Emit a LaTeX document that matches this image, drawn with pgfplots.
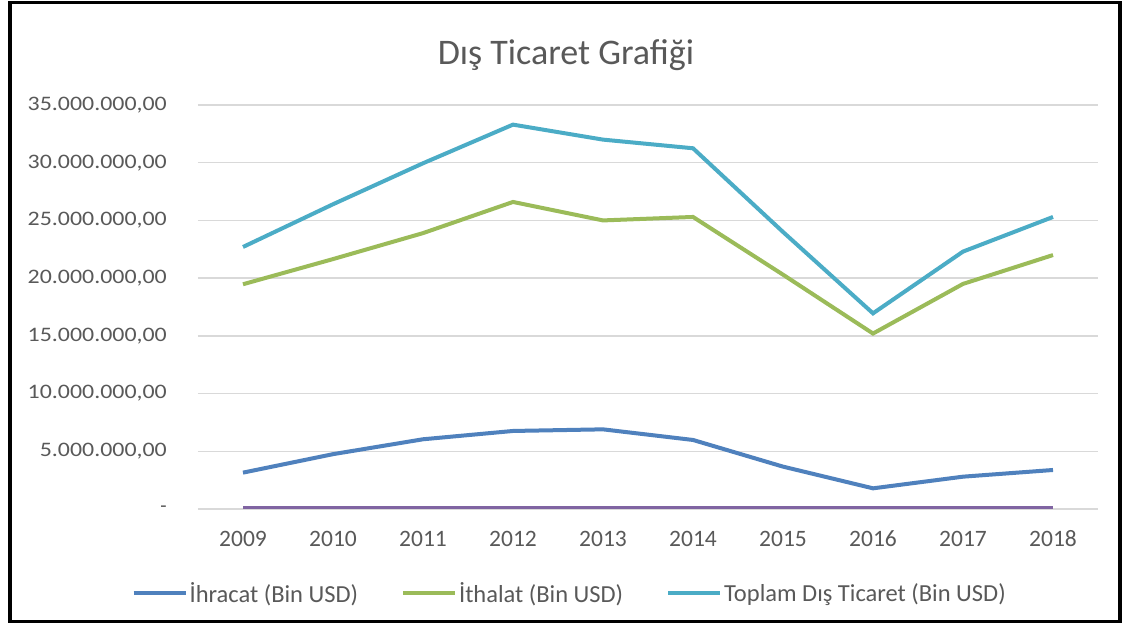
\documentclass[border=0pt]{standalone}
\usepackage{pgfplots}
\pgfplotsset{compat=1.18}
\usepackage{fontspec}
\setmainfont{Carlito}
\definecolor{cblue}{HTML}{4F81BD}
\definecolor{cgreen}{HTML}{9BBB59}
\definecolor{ccyan}{HTML}{4BACC6}
\definecolor{cpurple}{HTML}{8064A2}
\definecolor{gridgray}{HTML}{D9D9D9}
\definecolor{txtgray}{HTML}{595959}
\newcommand{\yl}[1]{\scalebox{1.16}[1]{#1}}
\begin{document}
\begin{tikzpicture}[x=1bp,y=1bp]
\begin{scope}[shift={(-198bp,-115bp)}]
\fill[white] (0,0) rectangle (1128,624);
\end{scope}
\begin{axis}[
  at={(0,0)}, anchor=south west,
  width=900bp, height=404bp, scale only axis,
  xmin=-0.5, xmax=9.5, ymin=0, ymax=35,
  axis line style={draw=none},
  major tick length=0pt,
  ymajorgrids, grid style={color=gridgray, line width=1.4bp},
  xtick={0,...,9},
  xticklabels={2009,2010,2011,2012,2013,2014,2015,2016,2017,2018},
  ytick={0,5,10,15,20,25,30,35},
  yticklabels={{-\hspace{15bp}},\yl{5.000.000,00},\yl{10.000.000,00},\yl{15.000.000,00},\yl{20.000.000,00},\yl{25.000.000,00},\yl{30.000.000,00},\yl{35.000.000,00}},
  yticklabel style={anchor=east, inner sep=0pt, xshift=-31bp, font=\fontsize{20.6bp}{24bp}\selectfont, text=txtgray},
  xticklabel style={anchor=base, inner sep=0pt, yshift=-38bp, font=\fontsize{23.5bp}{28bp}\selectfont, text=txtgray},
  legend style={at={(0.413,-0.208)}, anchor=center, draw=none, fill=none,
    legend columns=3, font=\fontsize{24.5bp}{28bp}\selectfont, text=txtgray,
    /tikz/every even column/.append style={column sep=41bp}},
  legend image code/.code={\draw[#1, line width=4bp] (0bp,0bp) -- (52bp,0bp);},
  every axis plot/.append style={line width=4bp},
]
\addplot[cpurple, line width=5bp, forget plot] coordinates {(0,0) (1,0) (2,0) (3,0) (4,0) (5,0) (6,0) (7,0) (8,0) (9,0)};
\addplot[cblue] coordinates {(0,3.15) (1,4.75) (2,6.04) (3,6.76) (4,6.9) (5,5.98) (6,3.67) (7,1.79) (8,2.8) (9,3.38)};
\addlegendentry{İhracat (Bin USD)}
\addplot[cgreen] coordinates {(0,19.47) (1,21.65) (2,23.9) (3,26.6) (4,25.0) (5,25.3) (6,20.3) (7,15.2) (8,19.5) (9,22.0)};
\addlegendentry{İthalat (Bin USD)}
\addplot[ccyan] coordinates {(0,22.7) (1,26.4) (2,29.95) (3,33.3) (4,32.0) (5,31.25) (6,24.0) (7,16.95) (8,22.3) (9,25.3)};
\addlegendentry{Toplam Dış Ticaret (Bin USD)}
\end{axis}
\begin{scope}[shift={(-198bp,-115bp)}]
\node[anchor=base, text=txtgray, font=\fontsize{36bp}{40bp}\selectfont, inner sep=0pt] at (566,559) {Dış Ticaret Grafiği};
\draw[black, line width=3.5bp] (10,621.5) rectangle (1120,2.5);
\end{scope}
\end{tikzpicture}
\end{document}
